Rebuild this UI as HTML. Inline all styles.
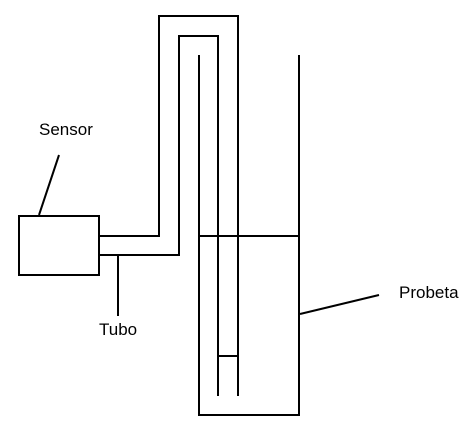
<!DOCTYPE html>
<html><head><meta charset="utf-8"><style>
html,body{margin:0;padding:0;background:#fff;width:475px;height:428px;overflow:hidden}
svg text{font-family:"Liberation Sans",sans-serif;font-size:17px;fill:#000}
</style></head><body>
<svg width="475" height="428" viewBox="0 0 475 428" xmlns="http://www.w3.org/2000/svg">
<g fill="none" stroke="#000" stroke-width="2">
<rect x="19" y="216" width="80" height="59"/>
<polyline points="99,236 159,236 159,16 238,16 238,396"/>
<polyline points="99,255 179,255 179,36 218,36 218,396"/>
<polyline points="199,55 199,415 299,415 299,55"/>
<line x1="199" y1="236" x2="299" y2="236"/>
<line x1="218" y1="356" x2="238" y2="356"/>
<line x1="118" y1="255" x2="118" y2="316"/>
<line x1="59" y1="155" x2="39" y2="215"/>
<line x1="300" y1="314" x2="379" y2="295"/>
</g>
<text x="39" y="135">Sensor</text>
<text x="99" y="335">Tubo</text>
<text x="399" y="298">Probeta</text>
</svg>
</body></html>
